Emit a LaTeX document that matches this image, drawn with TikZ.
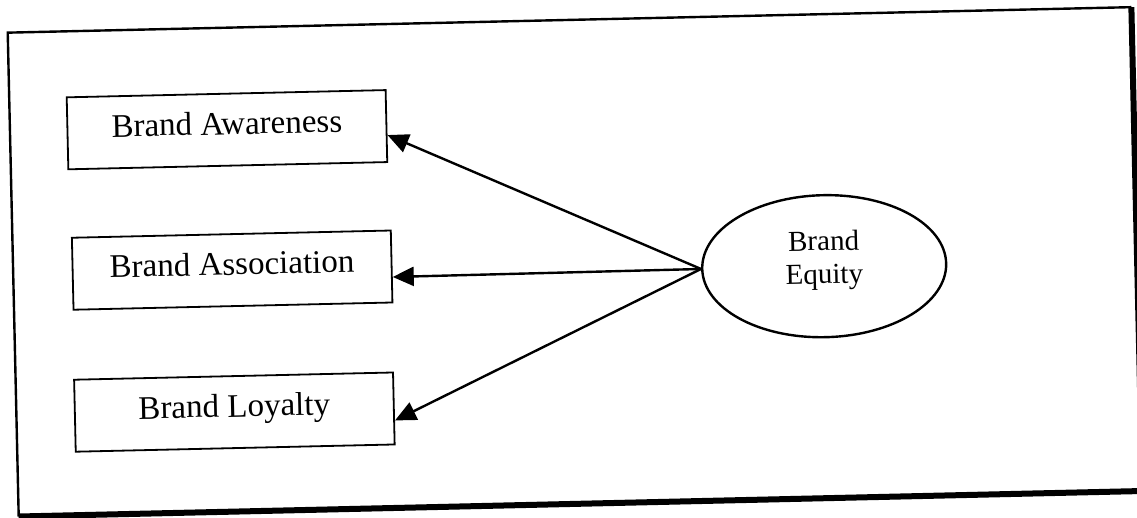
\documentclass[tikz,border=0pt]{standalone}
\usepackage{fontspec}
\setmainfont{Liberation Serif}
\usetikzlibrary{shapes.geometric,arrows.meta,calc}

\tikzset{
  conceptbox/.style={draw, line width=1.8pt, rectangle, minimum width=319pt,
    minimum height=72pt, inner sep=0pt, text height=23pt, text depth=13.5pt,
    font=\fontsize{33}{39}\selectfont},
  construct/.style={draw, line width=2.4pt, ellipse, minimum width=244pt,
    minimum height=142pt, inner sep=0pt},
  constructlabel/.style={align=center, inner sep=0pt,
    font=\fontsize{29}{33}\selectfont},
  loading/.style={line width=2.4pt, -{Triangle[length=21pt,width=19pt]}},
  frameline/.style={line width=2.4pt},
  shadowline/.style={line width=6pt}
}

\begin{document}
\begin{tikzpicture}[x=1pt, y=-1pt]
  \useasboundingbox (0,0) rectangle (1137,518);
  \clip (0,0) rectangle (1137,518);

  \begin{scope}[rotate around={1.3:(568,260)}, transform shape]
    % outer frame with heavier right and bottom edges
    \coordinate (ftl) at (13,20);
    \coordinate (ftr) at (1137,20);
    \coordinate (fbl) at (13,504);
    \coordinate (fbr) at (1137,504);
    \draw[frameline] (fbl) -- (ftl) -- (ftr);
    \draw[shadowline] (ftr) -- (fbr);
    \draw[shadowline] (fbl) -- (fbr);

    % dimensions of brand equity
    \node[conceptbox] (aw) at (230,122)   {Brand Awareness};
    \node[conceptbox] (as) at (232,262.5) {Brand Association};
    \node[conceptbox] (lo) at (231,404.5) {Brand Loyalty};

    % latent construct
    \node[construct] (eq) at (824,272) {};
    \node[constructlabel] (eqlabel) at ($(eq.center)+(0,-6)$) {Brand\\Equity};

    % loadings
    \draw[loading] (eq.west) -- ($(aw.east)+(0,9)$);
    \draw[loading] (eq.west) -- ($(as.east)+(0,10.5)$);
    \draw[loading] (eq.west) -- ($(lo.east)+(0,12)$);
  \end{scope}
\end{tikzpicture}
\end{document}
